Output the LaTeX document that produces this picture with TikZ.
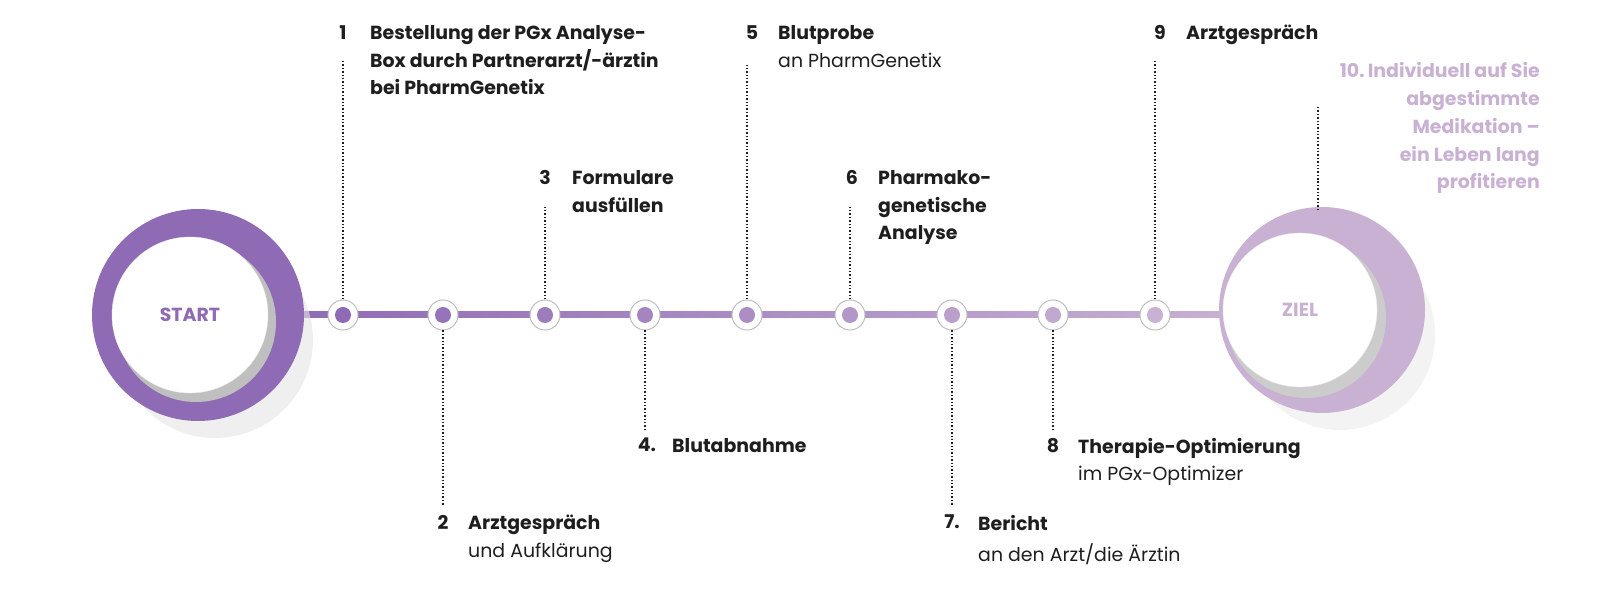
\documentclass[tikz,border=0pt]{standalone}
\usepackage{fontspec}
\setmainfont{Poppins}
\definecolor{startpurple}{HTML}{8F6BB5}
\definecolor{zielpurple}{HTML}{C8B1D2}
\definecolor{textdark}{HTML}{1E1E1E}
\begin{document}
\begin{tikzpicture}[x=1bp,y=1bp]
  \tikzset{
    stepdot/.style={circle,draw=black!25,line width=1pt,fill=white,minimum size=30bp,inner sep=0pt},
    stepline/.style={dotted,line width=1.4pt,textdark},
    steptitle/.style={anchor=north west,align=left,font=\fontsize{19}{28}\selectfont\bfseries,text=textdark,inner sep=0pt},
    stepnum/.style={anchor=north,font=\fontsize{19}{28}\selectfont\bfseries,text=textdark,inner sep=0pt},
    steptext/.style={anchor=north west,font=\fontsize{19}{28}\selectfont,text=textdark,inner sep=0pt}
  }
  \useasboundingbox (0,0) rectangle (1600,600);

  % track
  \shade[left color=startpurple,right color=zielpurple] (290,282) rectangle (1240,288);

  % start and goal
  \fill[black!10,opacity=0.6] (215,260) circle (98);
  \fill[startpurple] (198,285) circle (106);
  \fill[black!25] (196,278) circle (80);
  \node[circle,fill=white,draw=black!8,minimum size=156bp] (start) at (190,285)
    {\fontsize{19}{22}\selectfont\bfseries\color{startpurple}START};
  \fill[black!8,opacity=0.6] (1340,265) circle (95);
  \fill[zielpurple] (1322,290) circle (103);
  \fill[black!20] (1306,282) circle (80);
  \node[circle,fill=white,draw=black!8,minimum size=154bp] (ziel) at (1300,290)
    {\fontsize{19}{22}\selectfont\bfseries\color{zielpurple}ZIEL};

  % steps
  \foreach \n/\x/\y [evaluate=\n as \p using {(\n-1)*100/8}] in
      {1/343/540,2/443/95,3/545/395,4/645/170,5/747/535,6/850/395,7/952/95,8/1053/170,9/1155/540} {
    \node[stepdot] (s\n) at (\x,285) {};
    \fill[zielpurple!\p!startpurple] (s\n) circle (8);
    \coordinate (e\n) at (\x,\y);
    \ifnum\y>285 \draw[stepline] (s\n.north) -- (e\n);
    \else \draw[stepline] (s\n.south) -- (e\n); \fi
  }

  % labels
  \node[stepnum] (n1) at (343,575) {1};
  \node[steptitle] (t1) at (370,575) {Bestellung der PGx Analyse-\\Box durch Partnerarzt/-ärztin\\bei PharmGenetix};
  \node[stepnum] (n2) at (443,85) {2};
  \node[steptitle] (t2) at (468,85) {Arztgespräch};
  \node[steptext] at (468,57) {und Aufklärung};
  \node[stepnum] (n3) at (545,430) {3};
  \node[steptitle] (t3) at (572,430) {Formulare\\ausfüllen};
  \node[stepnum] (n4) at (647,162) {4.};
  \node[steptitle] (t4) at (672,162) {Blutabnahme};
  \node[stepnum] (n5) at (752,575) {5};
  \node[steptitle] (t5) at (778,575) {Blutprobe};
  \node[steptext] at (778,547) {an PharmGenetix};
  \node[stepnum] (n6) at (852,430) {6};
  \node[steptitle] (t6) at (878,430) {Pharmako-\\genetische\\Analyse};
  \node[stepnum] (n7) at (952,85) {7.};
  \node[steptitle] (t7) at (978,85) {Bericht};
  \node[steptext] at (978,57) {an den Arzt/die Ärztin};
  \node[stepnum] (n8) at (1053,162) {8};
  \node[steptitle] (t8) at (1078,162) {Therapie-Optimierung};
  \node[steptext] at (1078,134) {im PGx-Optimizer};
  \node[stepnum] (n9) at (1160,575) {9};
  \node[steptitle] (t9) at (1186,575) {Arztgespräch};
  \node[steptitle,anchor=north east,align=right,text=zielpurple] (t10) at (1540,538)
    {10.\,Individuell auf Sie\\abgestimmte\\Medikation –\\ein Leben lang\\profitieren};
  \coordinate (e10) at (1318,390);
  \draw[stepline] (e10) -- (1318,495);
\end{tikzpicture}
\end{document}
